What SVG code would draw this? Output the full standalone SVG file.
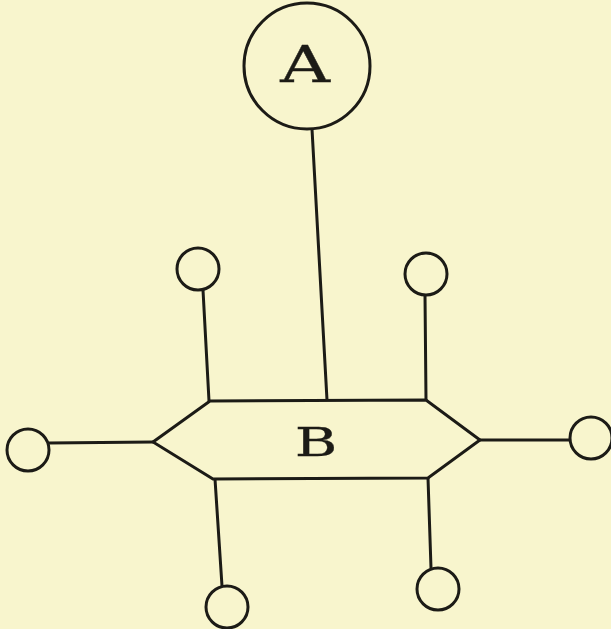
<svg xmlns="http://www.w3.org/2000/svg" width="611" height="629" viewBox="0 0 611 629">
  <style>
    .ln { stroke: #1c1b16; stroke-width: 3; fill: none; stroke-linecap: round; stroke-linejoin: round; }
    .nd { stroke: #1c1b16; stroke-width: 3; fill: #f8f5cd; }
    .lbl { font-family: "DejaVu Serif", "Liberation Serif", serif; fill: #1c1b16; text-anchor: middle; stroke: #1c1b16; stroke-width: 0.3; }
  </style>
  <rect width="611" height="629" fill="#f8f5cd"/>

  <g id="connectors">
    <line class="ln" x1="312" y1="129" x2="327" y2="400"/>
    <line class="ln" x1="203" y1="290" x2="209" y2="401"/>
    <line class="ln" x1="425" y1="295" x2="426" y2="400"/>
    <line class="ln" x1="215" y1="479" x2="222" y2="586"/>
    <line class="ln" x1="428" y1="478" x2="431" y2="568"/>
    <line class="ln" x1="49" y1="443" x2="153" y2="442"/>
    <line class="ln" x1="480" y1="440" x2="570" y2="440"/>
  </g>

  <g id="node-A">
    <circle class="nd" cx="307" cy="66" r="63"/>
    <text class="lbl" font-size="51" transform="translate(305 82) scale(1.35 1)">A</text>
  </g>

  <g id="node-B">
    <polygon class="nd" points="153,442 210,401 426,400 480,440 428,478 213,479"/>
    <text class="lbl" font-size="40" transform="translate(316 456) scale(1.45 1)">B</text>
  </g>

  <g id="node-top-left">
    <circle class="nd" cx="198" cy="269" r="21"/>
  </g>
  <g id="node-top-right">
    <circle class="nd" cx="426" cy="274" r="21"/>
  </g>
  <g id="node-left">
    <circle class="nd" cx="28" cy="450" r="21"/>
  </g>
  <g id="node-right">
    <circle class="nd" cx="591" cy="438" r="21"/>
  </g>
  <g id="node-bottom-left">
    <circle class="nd" cx="227" cy="607" r="21"/>
  </g>
  <g id="node-bottom-right">
    <circle class="nd" cx="438" cy="589" r="21"/>
  </g>
</svg>
